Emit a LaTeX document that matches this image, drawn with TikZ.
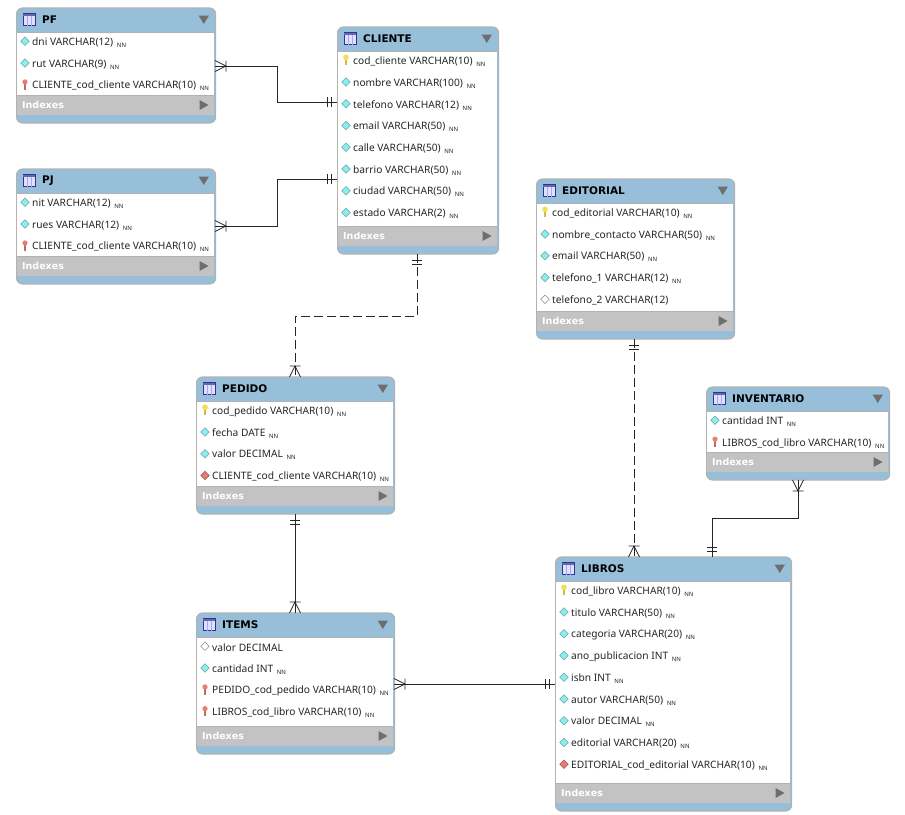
\documentclass[tikz,border=0pt]{standalone}
\usepackage{fontspec}
\setmainfont{Noto Sans}
\newfontfamily\headfont{DejaVu Sans}
\usepackage{tikz}
\usetikzlibrary{arrows.meta}

\definecolor{headblue}{HTML}{98BFDA}
\definecolor{indexgray}{HTML}{C3C3C3}
\definecolor{edgegray}{HTML}{B2B2B2}
\definecolor{markgray}{HTML}{6E6E6E}
\definecolor{colcyan}{HTML}{8CEDED}
\definecolor{fkred}{HTML}{E87C70}
\definecolor{pkyellow}{HTML}{F5DC50}

% crow's foot and double bar ends
\pgfdeclarearrow{name=Crow,
  setup code={\pgfarrowssettipend{0pt}\pgfarrowssetlineend{0pt}\pgfarrowssetbackend{-11pt}},
  drawing code={\pgfsetlinewidth{0.8pt}\pgfsetdash{}{0pt}
    \pgfpathmoveto{\pgfqpoint{0pt}{5.5pt}}\pgfpathlineto{\pgfqpoint{-11pt}{0pt}}
    \pgfpathlineto{\pgfqpoint{0pt}{-5.5pt}}
    \pgfpathmoveto{\pgfqpoint{-11pt}{5.5pt}}\pgfpathlineto{\pgfqpoint{-11pt}{-5.5pt}}
    \pgfusepathqstroke}}
\pgfdeclarearrow{name=OneBars,
  setup code={\pgfarrowssettipend{0pt}\pgfarrowssetlineend{0pt}\pgfarrowssetbackend{-10pt}},
  drawing code={\pgfsetlinewidth{0.8pt}\pgfsetdash{}{0pt}
    \pgfpathmoveto{\pgfqpoint{-6pt}{5pt}}\pgfpathlineto{\pgfqpoint{-6pt}{-5pt}}
    \pgfpathmoveto{\pgfqpoint{-10pt}{5pt}}\pgfpathlineto{\pgfqpoint{-10pt}{-5pt}}
    \pgfusepathqstroke}}

\tikzset{
  tablebox/.style={draw=edgegray,line width=1.2pt,fill=headblue,rounded corners=6pt,
    inner sep=0pt,anchor=north west},
  titletext/.style={font=\headfont\fontsize{10.5}{12}\selectfont\bfseries,anchor=west,inner sep=0pt},
  rowtext/.style={font=\fontsize{10.2}{12}\selectfont,anchor=west,inner sep=0pt,text=black!85},
  indextext/.style={font=\headfont\fontsize{9.5}{12}\selectfont\bfseries,anchor=west,inner sep=0pt,text=white},
  relline/.style={draw=black!85,line width=1pt},
  reldash/.style={relline,dash pattern=on 9pt off 4pt},
  coldia/.pic={\filldraw[fill=colcyan,draw=black!30!colcyan,line width=0.5pt]
    (0,-4.2)--(4.2,0)--(0,4.2)--(-4.2,0)--cycle;},
  nulldia/.pic={\filldraw[fill=white,draw=black!45,line width=0.5pt]
    (0,-4.2)--(4.2,0)--(0,4.2)--(-4.2,0)--cycle;},
  fkdia/.pic={\filldraw[fill=fkred,draw=black!30!fkred,line width=0.5pt]
    (0,-4.2)--(4.2,0)--(0,4.2)--(-4.2,0)--cycle;},
  pkkey/.pic={\fill[pkyellow!85!black] (-1.1,-1) rectangle (1.1,5);
    \fill[pkyellow] (0,-2.8) circle (2.8);},
  fkkey/.pic={\fill[fkred!85!black] (-1,-1) rectangle (1,5);
    \fill[fkred] (0,-2.8) circle (2.6);},
  tableicon/.pic={\filldraw[fill=blue!12,draw=blue!45!black!80,line width=0.8pt] (-6,-6) rectangle (6,6);
    \fill[blue!45!black!60] (-6,-6) rectangle (6,-4);
    \draw[blue!35,line width=0.4pt] (-2,-4)--(-2,6) (2,-4)--(2,6);}
}

\newcommand{\nn}{\raisebox{-2pt}{\fontsize{6}{6}\selectfont\,NN}}

% name, title, left, top, right, bottom, rows
\newcommand{\erdtable}[7]{
  \pgfmathsetmacro{\tablew}{#5-#3}
  \pgfmathsetmacro{\tableh}{#6-#4}
  \node[tablebox,minimum width=\tablew pt,minimum height=\tableh pt] (#1) at (#3,#4-0.6) {};
  \fill[white] (#3+0.6,#4+24) rectangle (#5-0.6,#6-28);
  \fill[indexgray] (#3+0.6,#6-28) rectangle (#5-0.6,#6-8);
  \draw[edgegray,line width=0.8pt] (#3,#4+24)--(#5,#4+24) (#3,#6-28)--(#5,#6-28);
  \pic at (#3+13,#4+11.5) {tableicon};
  \node[titletext] (#1-title) at (#3+26,#4+12) {#2};
  \fill[markgray] (#5-16.5,#4+7.5)--(#5-6,#4+7.5)--(#5-11.2,#4+16)--cycle;
  \node[indextext] (#1-indexes) at (#3+6,#6-18) {Indexes};
  \fill[markgray] (#5-15.5,#6-23)--(#5-6.5,#6-18)--(#5-15.5,#6-13)--cycle;
  \foreach \rowicon/\rowlabel [count=\i] in {#7}{
    \pic at (#3+9,#4+33.2+\i*21.75-21.75) {\rowicon};
    \node[rowtext] (#1-\i) at (#3+16,#4+34.6+\i*21.75-21.75) {\rowlabel};
  }
}

\begin{document}
\begin{tikzpicture}[x=1pt,y=-1pt]
  \useasboundingbox (0,0) rectangle (905,814);

  \erdtable{pf}{PF}{16}{8}{215}{123}{
    coldia/dni VARCHAR(12) \nn,
    coldia/rut VARCHAR(9) \nn,
    fkkey/CLIENTE\_cod\_cliente VARCHAR(10) \nn}
  \erdtable{pj}{PJ}{16}{169}{215}{284}{
    coldia/nit VARCHAR(12) \nn,
    coldia/rues VARCHAR(12) \nn,
    fkkey/CLIENTE\_cod\_cliente VARCHAR(10) \nn}
  \erdtable{cliente}{CLIENTE}{337}{27}{498}{254}{
    pkkey/cod\_cliente VARCHAR(10) \nn,
    coldia/nombre VARCHAR(100) \nn,
    coldia/telefono VARCHAR(12) \nn,
    coldia/email VARCHAR(50) \nn,
    coldia/calle VARCHAR(50) \nn,
    coldia/barrio VARCHAR(50) \nn,
    coldia/ciudad VARCHAR(50) \nn,
    coldia/estado VARCHAR(2) \nn}
  \erdtable{editorial}{EDITORIAL}{536}{179}{734}{339}{
    pkkey/cod\_editorial VARCHAR(10) \nn,
    coldia/nombre\_contacto VARCHAR(50) \nn,
    coldia/email VARCHAR(50) \nn,
    coldia/telefono\_1 VARCHAR(12) \nn,
    nulldia/telefono\_2 VARCHAR(12)}
  \erdtable{inventario}{INVENTARIO}{706}{387}{889}{480}{
    coldia/cantidad INT \nn,
    fkkey/LIBROS\_cod\_libro VARCHAR(10) \nn}
  \erdtable{pedido}{PEDIDO}{196}{377}{394}{514}{
    pkkey/cod\_pedido VARCHAR(10) \nn,
    coldia/fecha DATE \nn,
    coldia/valor DECIMAL \nn,
    fkdia/CLIENTE\_cod\_cliente VARCHAR(10) \nn}
  \erdtable{items}{ITEMS}{196}{613}{394}{754}{
    nulldia/valor DECIMAL,
    coldia/cantidad INT \nn,
    fkkey/PEDIDO\_cod\_pedido VARCHAR(10) \nn,
    fkkey/LIBROS\_cod\_libro VARCHAR(10) \nn}
  \erdtable{libros}{LIBROS}{555}{557}{791}{811}{
    pkkey/cod\_libro VARCHAR(10) \nn,
    coldia/titulo VARCHAR(50) \nn,
    coldia/categoria VARCHAR(20) \nn,
    coldia/ano\_publicacion INT \nn,
    coldia/isbn INT \nn,
    coldia/autor VARCHAR(50) \nn,
    coldia/valor DECIMAL \nn,
    coldia/editorial VARCHAR(20) \nn,
    fkdia/EDITORIAL\_cod\_editorial VARCHAR(10) \nn}

  % ends of the relations
  \coordinate (pf-out) at (215,66);
  \coordinate (pj-out) at (215,226);
  \coordinate (cliente-pf) at (337,102);
  \coordinate (cliente-pj) at (337,179);
  \coordinate (cliente-out) at (417,254);
  \coordinate (pedido-in) at (295,377);
  \coordinate (pedido-out) at (295,514);
  \coordinate (items-in) at (295,613);
  \coordinate (items-out) at (394,684);
  \coordinate (libros-items) at (555,684);
  \coordinate (editorial-out) at (634,339);
  \coordinate (libros-editorial) at (634,557);
  \coordinate (inventario-out) at (798,480);
  \coordinate (libros-inventario) at (712,557);

  \draw[relline,{Crow}-{OneBars}] (pf-out) -- ++(62,0) |- (cliente-pf);
  \draw[relline,{Crow}-{OneBars}] (pj-out) -- ++(62,0) |- (cliente-pj);
  \draw[reldash,{OneBars}-{Crow}] (cliente-out) -- ++(0,62) -| (pedido-in);
  \draw[relline,{OneBars}-{Crow}] (pedido-out) -- (items-in);
  \draw[relline,{Crow}-{OneBars}] (items-out) -- (libros-items);
  \draw[reldash,{OneBars}-{Crow}] (editorial-out) -- (libros-editorial);
  \draw[relline,{Crow}-{OneBars}] (inventario-out) -- ++(0,38) -| (libros-inventario);
\end{tikzpicture}
\end{document}
